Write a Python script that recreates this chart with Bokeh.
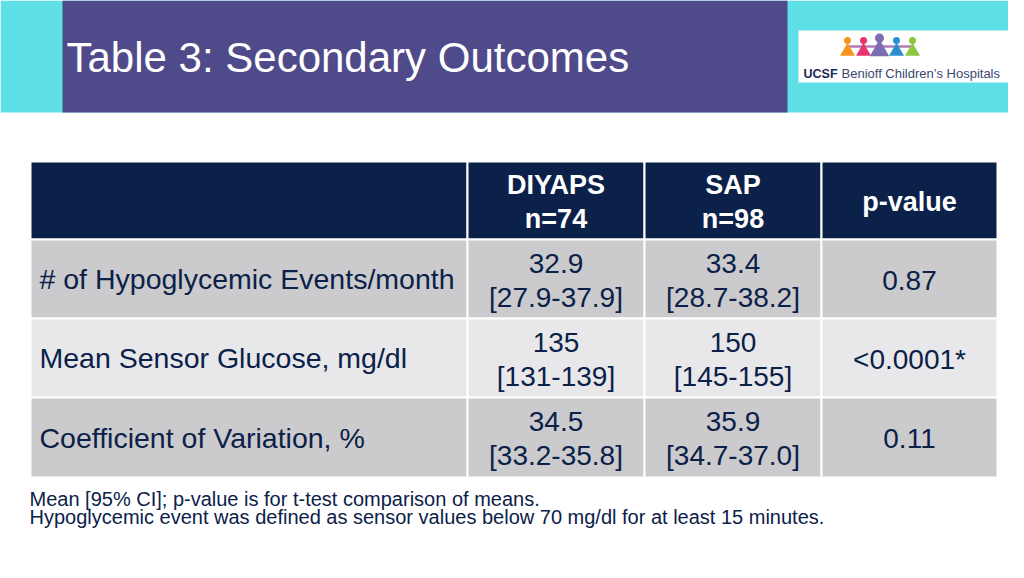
from bokeh.plotting import figure
from bokeh.models import Range1d
from bokeh.core.properties import value
from bokeh.embed import file_html
from bokeh.resources import INLINE

# ---- data ----
title = "Table 3: Secondary Outcomes"
col_headers_top = ["", "DIYAPS", "SAP", "p-value"]
col_headers_bottom = ["", "n=74", "n=98", ""]
row_labels = ["# of Hypoglycemic Events/month",
              "Mean Sensor Glucose, mg/dl",
              "Coefficient of Variation, %"]
diyaps_mean = ["32.9", "135", "34.5"]
diyaps_ci = ["[27.9-37.9]", "[131-139]", "[33.2-35.8]"]
sap_mean = ["33.4", "150", "35.9"]
sap_ci = ["[28.7-38.2]", "[145-155]", "[34.7-37.0]"]
p_values = ["0.87", "<0.0001*", "0.11"]
footnotes = ["Mean [95% CI]; p-value is for t-test comparison of means.",
             "Hypoglycemic event was defined as sensor values below 70 mg/dl for at least 15 minutes."]
logo_word = "UCSF"
logo_name = "Benioff Children\u2019s Hospitals"

# ---- styling / layout ----
FONT = value("Liberation Sans")
NAVY = "#0b2149"
CYAN = "#5ee0e6"
PURPLE = "#4f4b8b"
ROW_COLORS = ["#cbcbcd", "#e8e8ea", "#cbcbcd"]
col_edges = [30, 467, 644, 821, 997]
row_edges = [161, 239, 318, 397, 477]

p = figure(width=1008, height=562, output_backend="svg", toolbar_location=None,
           x_range=Range1d(0, 1008), y_range=Range1d(562, 0),
           min_border=0, background_fill_color="white", border_fill_color="white")
p.xaxis.visible = False
p.yaxis.visible = False
p.xgrid.visible = False
p.ygrid.visible = False
p.outline_line_color = None

# header band
p.quad(left=[0], right=[1024], top=[0], bottom=[112], fill_color=CYAN, line_color=None)
p.quad(left=[62], right=[787], top=[0], bottom=[112], fill_color=PURPLE, line_color=None)
p.text(x=[66], y=[57], text=[title], text_font=FONT, text_font_size="42px",
       text_color="white", text_baseline="middle", text_align="left")

# logo
p.quad(left=[798], right=[1017], top=[30], bottom=[82], fill_color="white", line_color=None)
fig_x = [847, 863, 879, 896, 912]
fig_c = ["#f7941d", "#e8336c", "#7b6bb0", "#2a8fd0", "#8dc63f"]
fig_s = [1.0, 1.0, 1.3, 1.0, 1.0]
p.line(x=[fig_x[0], fig_x[-1]], y=[46, 46], line_color="#b07bb0", line_width=2.5)
for fx, fc, fs in zip(fig_x, fig_c, fig_s):
    p.scatter(x=[fx], y=[51 - (fs - 1) * 3], marker="triangle", size=15 * fs,
              fill_color=fc, line_color=None)
    p.scatter(x=[fx], y=[40 - (fs - 1) * 8], marker="circle", size=7 * fs,
              fill_color=fc, line_color=None)
p.text(x=[803], y=[73], text=[logo_word], text_font=FONT, text_font_size="12.5px",
       text_font_style="bold", text_color="#1c2a55", text_baseline="alphabetic")
p.text(x=[841], y=[73], text=[logo_name], text_font=FONT, text_font_size="13px",
       text_color="#3b4670", text_baseline="alphabetic")

# table cells
n_cols = len(col_edges) - 1
lefts, rights, tops, bottoms, colors = [], [], [], [], []
for r in range(len(row_edges) - 1):
    for c in range(n_cols):
        lefts.append(col_edges[c]); rights.append(col_edges[c + 1])
        tops.append(row_edges[r]); bottoms.append(row_edges[r + 1])
        colors.append(NAVY if r == 0 else ROW_COLORS[r - 1])
p.quad(left=lefts, right=rights, top=tops, bottom=bottoms, fill_color=colors,
       line_color="white", line_width=2)

centers = [(col_edges[i] + col_edges[i + 1]) / 2 for i in range(n_cols)]
hy = (row_edges[0] + row_edges[1]) / 2
# header text
hx, hy_list, ht = [], [], []
for c in range(n_cols):
    if col_headers_top[c] and col_headers_bottom[c]:
        hx += [centers[c], centers[c]]
        hy_list += [hy - 16, hy + 18]
        ht += [col_headers_top[c], col_headers_bottom[c]]
    elif col_headers_top[c]:
        hx.append(centers[c]); hy_list.append(hy + 1); ht.append(col_headers_top[c])
p.text(x=hx, y=hy_list, text=ht, text_font=FONT, text_font_size="27px",
       text_font_style="bold", text_color="white", text_align="center",
       text_baseline="middle")

# body text
row_centers = [(row_edges[i] + row_edges[i + 1]) / 2 for i in range(1, len(row_edges) - 1)]
p.text(x=[39] * len(row_labels), y=row_centers, text=row_labels, text_font=FONT,
       text_font_size="28.5px", text_color=NAVY, text_align="left", text_baseline="middle")
bx, by, bt = [], [], []
for i, yc in enumerate(row_centers):
    for c, (m, ci) in zip([1, 2], [(diyaps_mean[i], diyaps_ci[i]), (sap_mean[i], sap_ci[i])]):
        bx += [centers[c], centers[c]]
        by += [yc - 16, yc + 18]
        bt += [m, ci]
    bx.append(centers[3]); by.append(yc + 1); bt.append(p_values[i])
p.text(x=bx, y=by, text=bt, text_font=FONT, text_font_size="28px", text_color=NAVY,
       text_align="center", text_baseline="middle")

# footnotes
p.text(x=[29, 29], y=[498.5, 516], text=footnotes, text_font=FONT,
       text_font_size="20px", text_color=NAVY, text_align="left",
       text_baseline="alphabetic")

open("out.html", "w").write(file_html(p, INLINE))
